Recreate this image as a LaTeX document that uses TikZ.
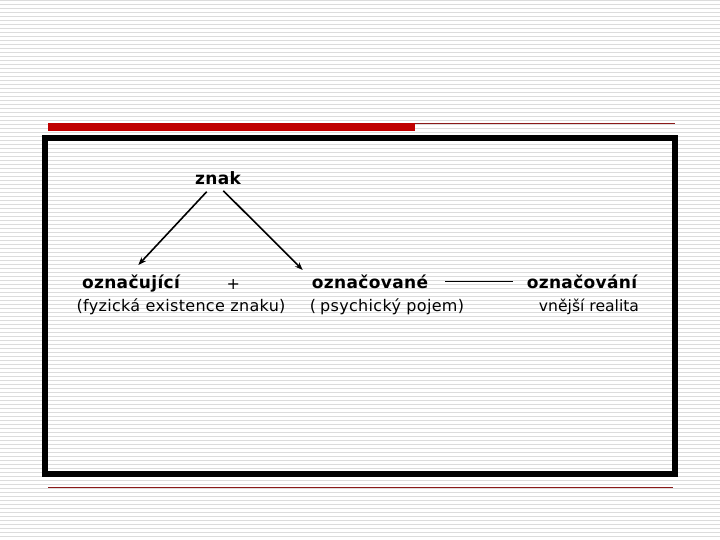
\documentclass[tikz,border=0pt]{standalone}
\usepackage{fontspec}
\setmainfont{DejaVu Sans}
\newfontfamily\regfont[LetterSpace=2]{DejaVu Sans}
\newfontfamily\plainfont{DejaVu Sans}
\newfontfamily\boldfont[LetterSpace=2]{DejaVu Sans Bold}
\usetikzlibrary{arrows.meta}
\definecolor{stripe}{HTML}{DCDCDC}
\definecolor{redbar}{HTML}{C00000}
\definecolor{redline}{HTML}{8B1A1A}
\tikzset{
  lbl/.style={inner sep=0pt, anchor=base, font=\regfont\fontsize{16}{19}\selectfont},
  lblb/.style={inner sep=0pt, anchor=base, font=\plainfont\fontsize{15.6}{18}\selectfont},
  blbl/.style={inner sep=0pt, anchor=base, font=\boldfont\fontsize{17}{20}\selectfont},
  arr/.style={line width=1.6pt, -{Stealth[length=8pt,width=6pt]}}
}
\begin{document}
\begin{tikzpicture}[x=1pt,y=-1pt]
\useasboundingbox (0,0) rectangle (720,540);
\fill[white] (0,0) rectangle (720,540);
\foreach \k in {0,...,134} {
  \draw[stripe, line width=1.1pt] (0,{4*\k+0.8}) -- (720,{4*\k+0.8});
}
% red bar and lines
\fill[redbar] (48,123) rectangle (415,131);
\draw[redline, line width=0.9pt] (415,123.5) -- (675,123.5);
\draw[redline, line width=0.9pt] (48,487.5) -- (673,487.5);
% black frame
\draw[black, line width=6pt] (45,138) rectangle (675,474);
% texts
\node[blbl] (znak) at (218,184.5) {znak};
\node[blbl] (oznacujici) at (131,288.3) {označující};
\node[lbl, anchor=center] (plus) at (233.3,284) {+};
\node[blbl] (oznacovane) at (370,288.3) {označované};
\node[blbl] (oznacovani) at (582,288.3) {označování};
\node[lbl] (fyz) at (181,311.7) {(fyzická existence znaku)};
\node[lbl] (psy) at (387,311.7) {(\kern4pt psychický pojem)};
\node[lblb] (vne) at (589,311.7) {vnější realita};
% connectors
\coordinate (a1) at (206.7,191.7);
\coordinate (a2) at (138.3,265);
\coordinate (b1) at (223.3,190.7);
\coordinate (b2) at (302.7,270);
\draw[arr] (a1) -- (a2);
\draw[arr] (b1) -- (b2);
\draw[line width=0.9pt] ([shift={(17pt,7pt)}]oznacovane.base east) -- ([shift={(-14pt,7pt)}]oznacovani.base west);
\end{tikzpicture}
\end{document}
